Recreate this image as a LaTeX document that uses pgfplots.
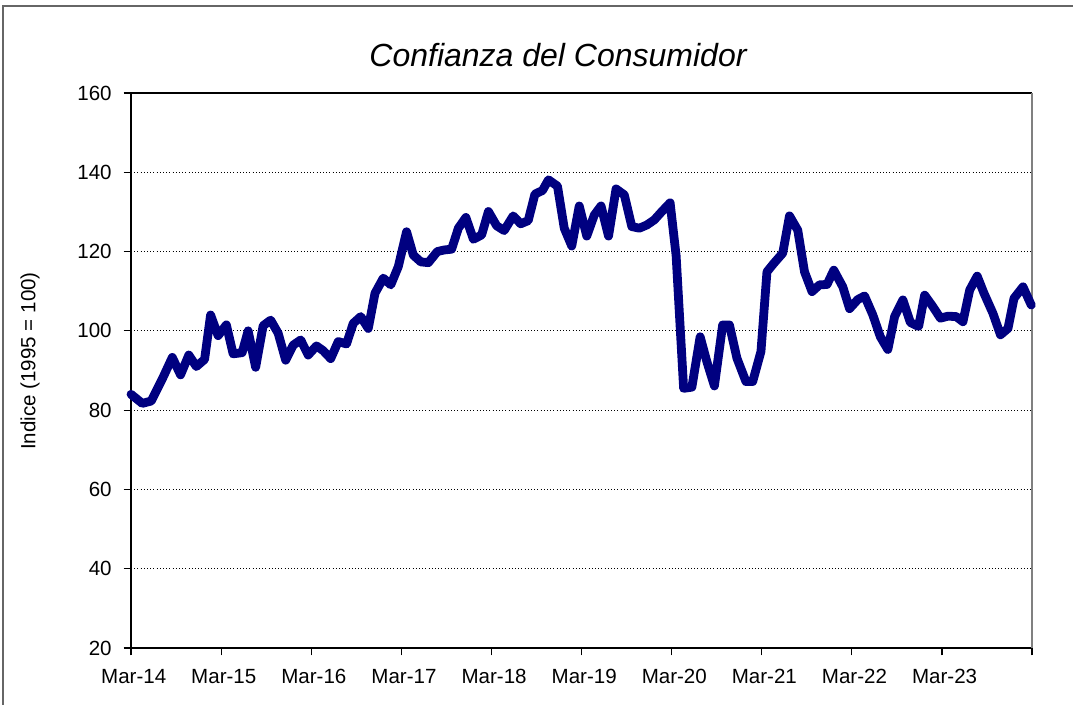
\documentclass[border=0pt]{standalone}
\usepackage{fontspec}
\setmainfont{Liberation Sans}
\usepackage{pgfplots}
\pgfplotsset{compat=1.18}
\definecolor{navyline}{RGB}{0,0,128}
\begin{document}
\begin{tikzpicture}
\useasboundingbox (0pt,0pt) rectangle (804.75pt,528.75pt);
\draw[gray!80!black, line width=1.1pt] (2.25pt,0pt) -- (2.25pt,524.25pt) -- (804.75pt,524.25pt);
\node[font=\fontsize{24}{28}\selectfont\itshape] at (418.5pt,487.5pt) {Confianza del Consumidor};
\node[rotate=90, font=\fontsize{15.4}{18}\selectfont] at (22.5pt,258pt) {Indice (1995 = 100)};
\begin{axis}[
  scale only axis,
  width=675.75pt, height=416.25pt,
  anchor=south west, at={(98.25pt,42.75pt)},
  xmin=0, xmax=120, ymin=20, ymax=160,
  axis x line*=bottom, axis y line*=left,
  axis line style={black, line width=0.9pt, -},
  xtick={0,12,...,120},
  xticklabels={Mar-14,Mar-15,Mar-16,Mar-17,Mar-18,Mar-19,Mar-20,Mar-21,Mar-22,Mar-23,},
  ytick={20,40,...,160},
  tick align=outside,
  major tick length=5.5pt,
  tick style={black, line width=0.9pt},
  ymajorgrids,
  major grid style={black, dotted, line width=0.7pt},
  tick label style={font=\fontsize{15.4}{18}\selectfont},
  xticklabel style={yshift=-7pt, xshift=2pt},
  yticklabel style={xshift=-5.5pt},
  /pgf/number format/assume math mode=true,
  clip=false,
]
\draw[black, line width=0.9pt] (rel axis cs:0,1) -- (rel axis cs:1,1);
\draw[gray, line width=1.2pt] (rel axis cs:1,0) -- (rel axis cs:1,1);
\addplot[navyline, line width=6.6pt, line join=round, line cap=round] coordinates {
(0.0,84.0) (1.5,81.7) (2.7,82.3) (4.3,88.4) (5.5,93.3) (6.6,88.9) (7.7,93.9)
(8.7,91.0) (9.8,92.8) (10.6,104.0) (11.6,98.8) (12.7,101.5) (13.6,94.2)
(14.8,94.5) (15.6,100.0) (16.6,90.8) (17.6,101.3) (18.6,102.7) (19.6,99.4)
(20.6,92.6) (21.6,96.4) (22.6,97.7) (23.6,93.9) (24.7,96.2) (25.6,95.0)
(26.6,93.0) (27.6,97.3) (28.7,96.7) (29.6,101.9) (30.6,103.6) (31.6,100.6)
(32.5,109.5) (33.6,113.3) (34.6,111.6) (35.6,116.2) (36.7,125.0) (37.6,119.1)
(38.6,117.4) (39.6,117.2) (40.8,120.0) (41.7,120.4) (42.7,120.6) (43.6,125.9)
(44.6,128.6) (45.6,123.1) (46.7,124.2) (47.6,130.1) (48.7,126.5) (49.7,125.3)
(50.9,129.0) (51.9,127.0) (52.9,127.8) (53.8,134.5) (54.8,135.4) (55.6,138.1)
(56.8,136.5) (57.7,125.9) (58.7,121.4) (59.7,131.5) (60.7,123.9) (61.7,129.2)
(62.6,131.5) (63.6,123.9) (64.6,135.8) (65.7,134.3) (66.7,126.3) (67.7,125.9)
(68.7,126.7) (69.7,128.0) (70.7,130.1) (71.8,132.3) (72.6,119.0) (73.6,85.5)
(74.7,85.8) (75.8,98.5) (76.7,92.2) (77.7,86.1) (78.8,101.5) (79.7,101.5)
(80.7,93.1) (81.9,87.2) (82.8,87.2) (83.9,94.8) (84.7,114.9) (85.6,117.0)
(86.8,119.6) (87.7,129.0) (88.8,125.4) (89.7,114.9) (90.7,109.9) (91.7,111.6)
(92.7,111.7) (93.6,115.3) (94.8,111.1) (95.7,105.6) (96.8,107.9) (97.7,108.8)
(98.8,104.0) (99.8,98.5) (100.8,95.3) (101.7,103.6) (102.8,107.8) (103.8,102.1)
(104.9,101.1) (105.7,109.0) (106.8,106.1) (107.8,103.2) (108.8,103.7) (109.9,103.6)
(110.8,102.3) (111.7,110.3) (112.7,113.8) (113.6,109.5) (114.8,104.4) (115.8,99.0)
(116.8,100.6) (117.6,108.2) (118.8,111.1) (119.9,106.5)
};
\end{axis}
\end{tikzpicture}
\end{document}
